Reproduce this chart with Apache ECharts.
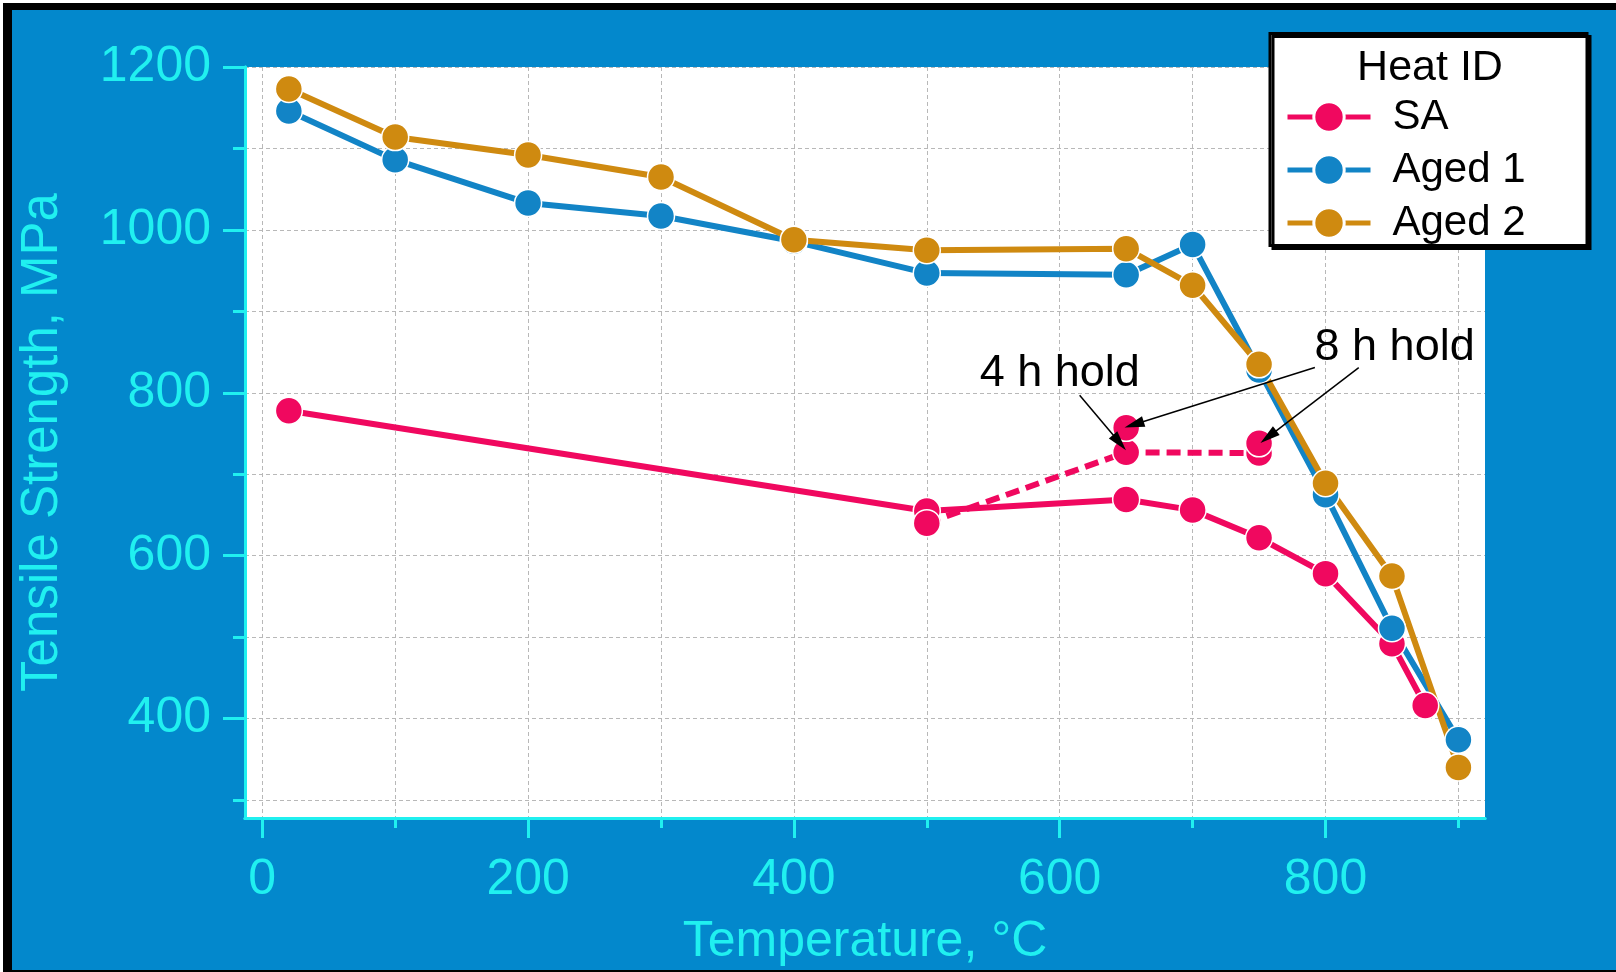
<!DOCTYPE html>
<html>
<head>
<meta charset="utf-8">
<script src="https://cdn.jsdelivr.net/npm/echarts@6/dist/echarts.min.js"></script>
<style>
  html, body { margin: 0; padding: 0; background: #ffffff; }
  #frame { position: absolute; left: 3px; top: 3px; width: 1613px; height: 969px; background: #000000; }
  #panel { position: absolute; left: 12px; top: 10px; width: 1604px; height: 960px; background: #0388CC; }
  #chart { position: absolute; left: 0; top: 0; width: 1616px; height: 972px; }
</style>
</head>
<body>
<div id="frame"></div>
<div id="panel"></div>
<div id="chart"></div>
<script>
// Tensile strength (MPa) versus test temperature (°C)
const agedTemps = [20, 100, 200, 300, 400, 500, 650, 700, 750, 800, 850, 900];
const aged1 = [1146, 1086, 1033, 1017, 986, 947, 945, 982, 828, 675, 511, 374];
const aged2 = [1173, 1114, 1092, 1065, 988, 975, 977, 932, 835, 689, 575, 340];

const saTemps = [20, 500, 650, 700, 750, 800, 850, 875];
const saValues = [778, 655, 669, 656, 622, 578, 492, 416];

// SA tested after holding at temperature
const holdTemps = [500, 650, 750];
const holdValues = [640, 727, 726];
const holdExtraTemps = [650, 750];
const holdExtraValues = [757, 738];

const xMajorTicks = [0, 200, 400, 600, 800];
const xMinorTicks = [100, 300, 500, 700, 900];
const yMajorTicks = [400, 600, 800, 1000, 1200];
const yMinorTicks = [300, 500, 700, 900, 1100];

const legendNames = ['SA', 'Aged 1', 'Aged 2'];

// Callout texts and arrows, in data units (°C, MPa)
const noteTexts = ['4 h hold', '8 h hold'];
const noteAnchors = [[600, 824], [852, 856]];
const arrowStarts = [[615, 797], [792, 831], [825, 831]];
const arrowEnds = [[645, 739], [656, 761], [757, 746]];

const FONT = '"Liberation Sans", Arial, Helvetica, sans-serif';
const CYAN = '#20F0F0';
const PINK = '#F0085F';
const BLUE = '#1284C6';
const GOLD = '#CF8A10';
const LINE_W = 6;

const zip = (xs, ys) => xs.map((x, i) => [x, ys[i]]);

function lineSeries(name, color, data, extra) {
  return Object.assign({
    name: name,
    type: 'line',
    data: data,
    symbol: 'circle',
    symbolSize: 27,
    showSymbol: true,
    lineStyle: { color: color, width: LINE_W },
    itemStyle: { color: color, borderColor: '#ffffff', borderWidth: 1.5, opacity: 1 },
    emphasis: { disabled: true },
    animation: false
  }, extra || {});
}

const gridLine = { show: true, lineStyle: { color: '#B8B8B8', width: 1, type: [4, 3] } };

function xAxisDef(ticks, tickLen, withLabels) {
  return {
    type: 'value', min: -13, max: 920, position: 'bottom', gridIndex: 0,
    axisLine: { show: true, onZero: false, lineStyle: { color: CYAN, width: 3 } },
    axisTick: { show: true, customValues: ticks, length: tickLen, lineStyle: { color: CYAN, width: 3 } },
    axisLabel: withLabels
      ? { show: true, customValues: ticks, color: CYAN, fontSize: 50, fontFamily: FONT, margin: 37,
          formatter: v => String(v) }
      : { show: false },
    splitLine: gridLine,
    name: withLabels ? 'Temperature, °C' : '',
    nameLocation: 'middle', nameGap: 99,
    nameTextStyle: { color: CYAN, fontSize: 50, fontFamily: FONT }
  };
}

function yAxisDef(ticks, tickLen, withLabels) {
  return {
    type: 'value', min: 278, max: 1200, position: 'left', gridIndex: 0,
    axisLine: { show: true, onZero: false, lineStyle: { color: CYAN, width: 3 } },
    axisTick: { show: true, customValues: ticks, length: tickLen, lineStyle: { color: CYAN, width: 3 } },
    axisLabel: withLabels
      ? { show: true, customValues: ticks, color: CYAN, fontSize: 50, fontFamily: FONT, margin: 34,
          formatter: v => String(v) }
      : { show: false },
    splitLine: gridLine,
    name: withLabels ? 'Tensile Strength, MPa' : '',
    nameLocation: 'middle', nameGap: 177, nameRotate: 90,
    nameTextStyle: { color: CYAN, fontSize: 51, fontFamily: FONT }
  };
}

const chart = echarts.init(document.getElementById('chart'), null, { renderer: 'canvas' });

chart.setOption({
  animation: false,
  backgroundColor: 'transparent',
  textStyle: { fontFamily: FONT },
  grid: {
    left: 245, top: 67, right: 131, bottom: 154,
    show: true, backgroundColor: '#ffffff', borderWidth: 0,
    containLabel: false, outerBoundsMode: 'none'
  },
  xAxis: [xAxisDef(xMajorTicks, 20, true), xAxisDef(xMinorTicks, 10, false)],
  yAxis: [yAxisDef(yMajorTicks, 22, true), yAxisDef(yMinorTicks, 12, false)],
  legend: {
    data: legendNames,
    orient: 'vertical',
    left: 1285, top: 96,
    padding: 0,
    itemGap: 11,
    itemWidth: 83, itemHeight: 38,
    selectedMode: false,
    z: 10,
    lineStyle: { width: 5 },
    itemStyle: { borderColor: '#ffffff', borderWidth: 3 },
    textStyle: { color: '#000000', fontSize: 42, fontFamily: FONT, padding: [0, 0, 0, 17] }
  },
  graphic: {
    elements: [
      {
        type: 'rect', z: 3, silent: true,
        shape: { x: 1270, y: 33.5, width: 317, height: 212 },
        style: { fill: '#ffffff', stroke: '#000000', lineWidth: 3,
                 shadowColor: '#000000', shadowOffsetX: 3, shadowOffsetY: 3, shadowBlur: 0 }
      },
      {
        type: 'text', z: 5, silent: true, x: 1430, y: 68,
        style: { text: 'Heat ID', font: '43px ' + FONT, fill: '#000000',
                 align: 'center', verticalAlign: 'middle' }
      }
    ]
  },
  series: [
    lineSeries('SA', PINK, zip(saTemps, saValues)),
    lineSeries('SA hold', PINK, zip(holdTemps, holdValues), {
      lineStyle: { color: PINK, width: LINE_W, type: [14, 7] }
    }),
    {
      name: 'SA hold points',
      type: 'scatter',
      data: zip(holdExtraTemps, holdExtraValues),
      symbol: 'circle',
      symbolSize: 27,
      itemStyle: { color: PINK, borderColor: '#ffffff', borderWidth: 1.5, opacity: 1 },
      emphasis: { disabled: true },
      animation: false,
      z: 3,
      markLine: {
        silent: true,
        animation: false,
        symbol: ['none', 'triangle'],
        symbolSize: [11, 20],
        lineStyle: { color: '#000000', width: 1.5, type: 'solid', opacity: 1 },
        label: { show: false },
        emphasis: { disabled: true },
        data: arrowStarts.map((s, i) => [{ coord: s }, { coord: arrowEnds[i] }])
      },
      markPoint: {
        silent: true,
        animation: false,
        symbol: 'circle',
        symbolSize: 1,
        itemStyle: { color: 'rgba(0,0,0,0)' },
        label: { show: true, position: 'inside', color: '#000000', fontSize: 45,
                 fontFamily: FONT, formatter: p => p.name },
        data: noteTexts.map((t, i) => ({ name: t, coord: noteAnchors[i] }))
      }
    },
    lineSeries('Aged 1', BLUE, zip(agedTemps, aged1)),
    lineSeries('Aged 2', GOLD, zip(agedTemps, aged2))
  ]
});
</script>
</body>
</html>
